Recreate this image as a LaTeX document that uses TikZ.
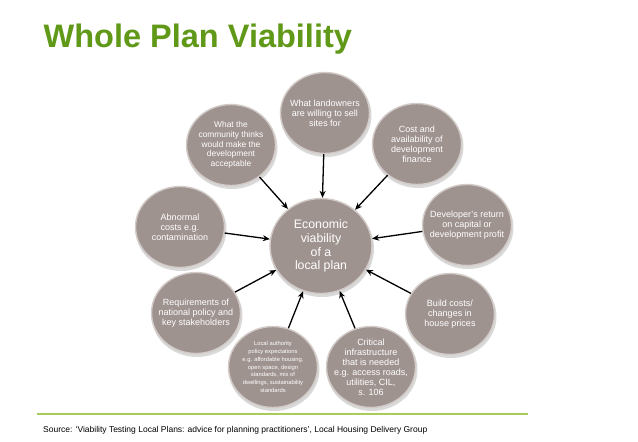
\documentclass[tikz,border=0pt]{standalone}
\usepackage{fontspec}
\setmainfont{Liberation Sans}
\usetikzlibrary{shapes.geometric,arrows.meta}
\definecolor{bubfill}{RGB}{159,147,144}
\definecolor{bubring}{RGB}{210,203,200}
\definecolor{titlegreen}{RGB}{96,152,24}
\definecolor{rulegreen}{RGB}{168,204,92}
\begin{document}
\begin{tikzpicture}[x=1pt,y=-1pt,
  bub/.style={ellipse, fill=bubfill, draw=bubring, line width=1.4pt, minimum width=89pt, minimum height=81pt, inner sep=0pt},
  bigbub/.style={bub, minimum width=102pt, minimum height=95pt},
  txt/.style={text=white, align=center, font=\fontsize{9}{10}\selectfont, inner sep=0pt},
  arr/.style={-{Stealth[length=7pt,width=6pt]}, line width=1.3pt, black},
  shadowfill/.style={fill=black, opacity=0.15}
]
\useasboundingbox (0,0) rectangle (638,442);
\fill[white] (0,0) rectangle (638,442);

% title
\node[anchor=base west, text=titlegreen, font=\fontsize{32.5}{36}\selectfont\bfseries, inner sep=0pt] (title) at (43.5,47) {Whole Plan Viability};

% soft shadows
\foreach \x/\y in {325/113, 231/145, 417/144, 180/227, 467/225, 196/313, 273/367, 371/367, 450/314}
  \fill[shadowfill] (\x+1,\y+2.5) ellipse [x radius=45.5, y radius=41.5];
\fill[shadowfill] (322,248.5) ellipse [x radius=52, y radius=48.5];

% bubbles
\node[bub] (L) at (325,113) {};
\node[bub] (C) at (231,145) {};
\node[bub] (F) at (417,144) {};
\node[bub] (A) at (180,227) {};
\node[bub] (D) at (467,225) {};
\node[bub] (R) at (196,313) {};
\node[bub] (LA) at (273,367) {};
\node[bub] (I) at (371,367) {};
\node[bub] (B) at (450,314) {};
\node[bigbub] (E) at (321,246) {};

% texts
\node[txt] (Lt) at (L) {What landowners\\are willing to sell\\sites for};
\node[txt, font=\fontsize{8.4}{9.8}\selectfont] (Ct) at (C) {What the\\community thinks\\would make the\\development\\acceptable};
\node[txt] (Ft) at (F) {Cost and\\availability of\\development\\finance};
\node[txt] (At) at (A) {Abnormal\\costs e.g.\\contamination};
\node[txt] (Dt) at (D) {Developer’s return\\on capital or\\development profit};
\node[txt] (Rt) at (R) {Requirements of\\national policy and\\key stakeholders};
\node[txt, font=\fontsize{5.8}{7.8}\selectfont] (LAt) at (LA) {Local authority\\policy expectations\\e.g. affordable housing,\\open space, design\\standards, mix of\\dwellings, sustainability\\standards};
\node[txt] (It) at (I) {Critical\\infrastructure\\that is needed\\e.g. access roads,\\utilities, CIL,\\s. 106};
\node[txt] (Bt) at (B) {Build costs/\\changes in\\house prices};
\node[txt, font=\fontsize{12.3}{13.7}\selectfont] (Et) at (E) {Economic\\viability\\of a\\local plan};

% arrows
\foreach \n in {L,C,F,A,D,R,LA,I,B}
  \draw[arr] (\n) -- (E);

% footer
\draw[rulegreen, line width=1.3pt] (37,414) -- (528,414);
\node[anchor=base west, font=\fontsize{8.5}{10}\selectfont, inner sep=0pt] (src) at (43,432) {Source: ‘Viability Testing Local Plans: advice for planning practitioners’, Local Housing Delivery Group};
\end{tikzpicture}
\end{document}
